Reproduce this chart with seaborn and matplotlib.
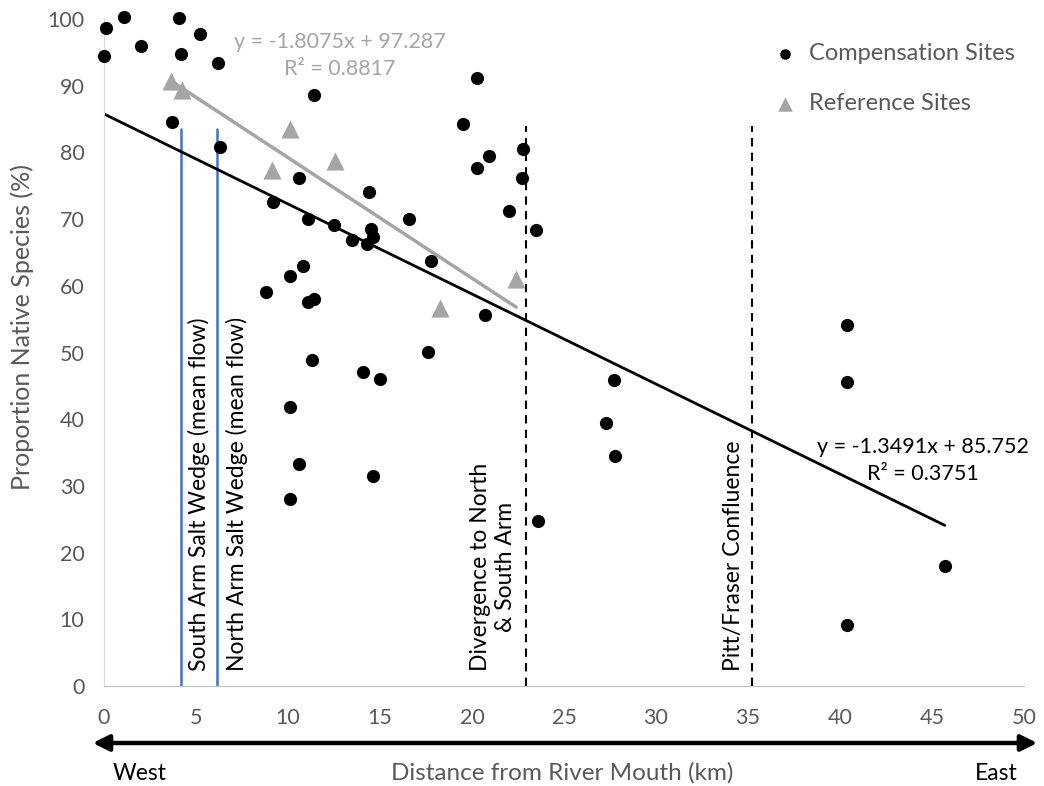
import matplotlib

matplotlib.use("Agg")

import matplotlib.pyplot as plt
import numpy as np
import pandas as pd
import seaborn as sns

# compensation sites (distance km, proportion native %)
comp_x = [0.0, 0.1, 1.1, 2.0, 4.1, 4.2, 5.2, 6.2, 3.7, 6.3, 11.4, 9.2, 10.6,
          11.1, 12.5, 13.5, 14.5, 14.3, 14.6, 14.4, 16.6, 17.8, 19.5, 20.3,
          20.3, 20.9, 22.0, 22.7, 22.8, 23.5, 20.7, 8.8, 10.1, 10.8, 11.1,
          11.4, 11.3, 14.1, 15.0, 17.6, 10.1, 10.6, 10.1, 14.6, 23.6, 27.7,
          27.3, 27.8, 40.4, 40.4, 40.4, 45.7]
comp_y = [94.5, 98.6, 100.3, 96.0, 100.1, 94.8, 97.7, 93.4, 84.6, 80.8, 88.6,
          72.6, 76.2, 70.0, 69.1, 66.9, 68.5, 66.3, 67.3, 74.0, 70.0, 63.7,
          84.3, 91.2, 77.7, 79.5, 71.2, 76.2, 80.5, 68.4, 55.6, 59.1, 61.5,
          63.0, 57.6, 58.0, 48.9, 47.1, 46.0, 50.1, 41.8, 33.3, 28.0, 31.5,
          24.7, 45.9, 39.4, 34.5, 54.1, 45.6, 9.1, 18.0]

# reference sites
ref_x = [3.65, 4.25, 9.15, 10.13, 12.53, 18.25, 22.4]
ref_y = [90.7, 89.4, 77.4, 83.5, 78.7, 56.7, 61.0]

# trendline coefficients as printed on the chart
comp_slope, comp_icpt, comp_r2 = -1.3491, 85.752, 0.3751
ref_slope, ref_icpt, ref_r2 = -1.8075, 97.287, 0.8817

# vertical markers (km) and their labels
salt_wedges = [(4.2, "South Arm Salt Wedge (mean flow)"),
               (6.15, "North Arm Salt Wedge (mean flow)")]
dashed_marks = [(22.95, "Divergence to North\n& South Arm"),
                (35.2, "Pitt/Fraser Confluence")]

TEXT_GREY = "#595959"
REF_GREY = "#A5A5A5"
BLUE = "#4472C4"

sns.set_style("white")
plt.rcParams["font.family"] = ["Lato", "DejaVu Sans"]

comp = pd.DataFrame({"x": comp_x, "y": comp_y})
ref = pd.DataFrame({"x": ref_x, "y": ref_y})

fig = plt.figure(figsize=(10.44, 7.86), dpi=100)
ax = fig.add_axes([0.0996, 0.127, 0.8812, 0.849])

# vertical reference lines
for xv, label in salt_wedges:
    ax.plot([xv, xv], [0, 83.5], color=BLUE, lw=1.8, zorder=1)
for xv, label in dashed_marks:
    ax.plot([xv, xv], [0, 84], color="black", lw=1.5, ls=(0, (4, 3)), zorder=1)

text_off = {4.2: 0.95, 6.15: 1.05, 22.95: -1.8, 35.2: -1.0}
for xv, label in salt_wedges + dashed_marks:
    ax.text(xv + text_off[xv], 2.3, label, rotation=90, ha="center",
            va="bottom", fontsize=16.5, color="black", linespacing=1.2)

# trendlines
xs = np.array([min(comp_x), max(comp_x)])
ax.plot(xs, comp_slope * xs + comp_icpt, color="black", lw=2, zorder=2)
xr = np.array([min(ref_x), max(ref_x)])
ax.plot(xr, ref_slope * xr + ref_icpt, color=REF_GREY, lw=2.5, zorder=2)

sns.scatterplot(data=comp, x="x", y="y", color="black", marker="o", s=90,
                linewidth=0, ax=ax, clip_on=False, zorder=3,
                label="Compensation Sites")
sns.scatterplot(data=ref, x="x", y="y", color=REF_GREY, marker="^", s=170,
                linewidth=0, ax=ax, clip_on=False, zorder=3,
                label="Reference Sites")

ax.text(12.8, 94.5, f"y = {ref_slope}x + {ref_icpt}\nR² = {ref_r2}",
        ha="center", va="center", fontsize=15.5, color=REF_GREY,
        linespacing=1.45)
ax.text(44.5, 33.8, f"y = {comp_slope}x + {comp_icpt}\nR² = {comp_r2}",
        ha="center", va="center", fontsize=15.5, color="black",
        linespacing=1.45)

leg = ax.legend(loc="upper left", bbox_to_anchor=(0.692, 0.995), frameon=False,
                fontsize=17, handletextpad=0.0, labelspacing=1.2,
                markerscale=0.8)
for t in leg.get_texts():
    t.set_color(TEXT_GREY)

ax.set_xlim(0, 50)
ax.set_ylim(0, 100)
ax.set_xticks(range(0, 51, 5))
ax.set_yticks(range(0, 101, 10))
ax.tick_params(axis="both", labelsize=15.5, labelcolor=TEXT_GREY, length=0)
ax.tick_params(axis="x", pad=16)
ax.tick_params(axis="y", pad=14)
ax.set_xlabel("")
ax.set_ylabel("Proportion Native Species (%)", fontsize=18, color=TEXT_GREY)
ax.yaxis.set_label_coords(-0.076, 0.538)
sns.despine(ax=ax)
ax.spines["left"].set_color("#D9D9D9")
ax.spines["bottom"].set_color("#BFBFBF")

# west-east arrow under the axis
fig.add_artist(matplotlib.patches.FancyArrowPatch(
    (90 / 1044, 1 - 743 / 786), (1040 / 1044, 1 - 743 / 786),
    transform=fig.transFigure, arrowstyle="<|-|>", mutation_scale=24,
    lw=3.2, color="black"))
fig.text(562 / 1044, 1 - 773 / 786, "Distance from River Mouth (km)",
         ha="center", va="center", fontsize=17.5, color=TEXT_GREY)
fig.text(140 / 1044, 1 - 773 / 786, "West", ha="center", va="center",
         fontsize=16.5, color="black")
fig.text(996 / 1044, 1 - 773 / 786, "East", ha="center", va="center",
         fontsize=16.5, color="black")

fig.savefig("out.png", dpi=100)
